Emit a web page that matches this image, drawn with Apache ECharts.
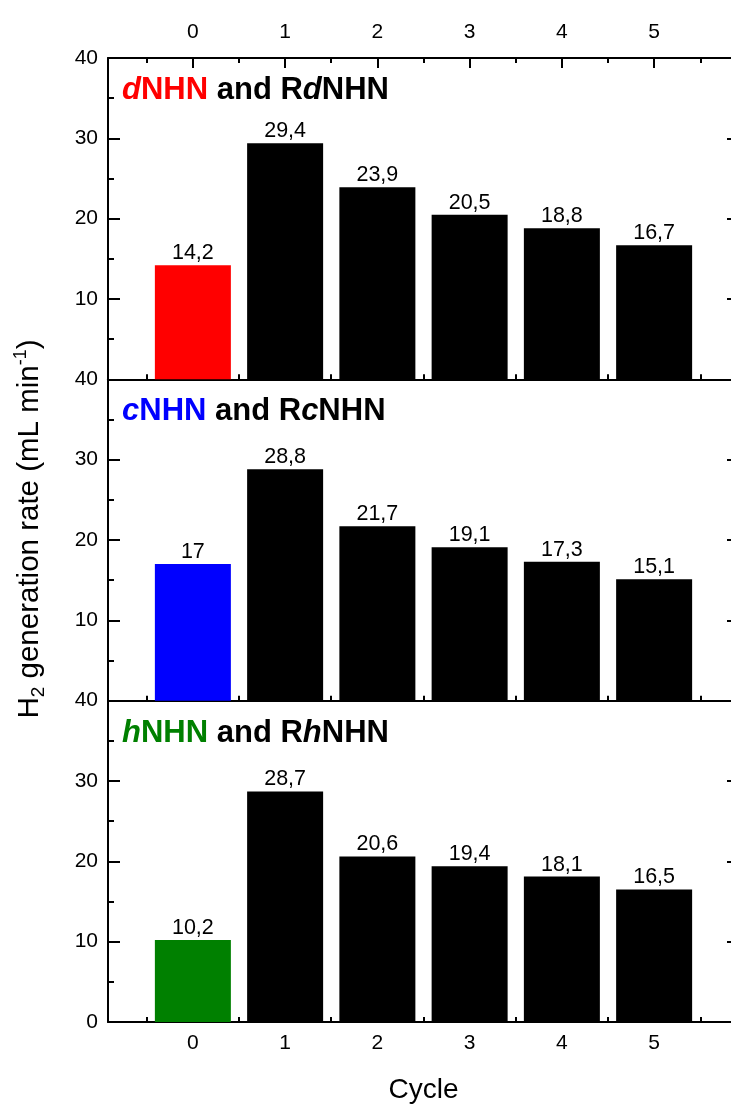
<!DOCTYPE html>
<html><head><meta charset="utf-8">
<script src="https://cdn.jsdelivr.net/npm/echarts@6/dist/echarts.min.js"></script>
<style>html,body{margin:0;padding:0;background:#fff}#c{width:731px;height:1113px}</style>
</head><body><div id="c"></div>
<script>
const cycles = [0, 1, 2, 3, 4, 5];
const minorTicks = [-0.5, 0.5, 1.5, 2.5, 3.5, 4.5, 5.5];
const valuesD = [14.2, 29.4, 23.9, 20.5, 18.8, 16.7];
const valuesC = [17, 28.8, 21.7, 19.1, 17.3, 15.1];
const valuesH = [10.2, 28.7, 20.6, 19.4, 18.1, 16.5];
const panelNames = [['d', 'NHN', 'd'], ['c', 'NHN', 'c'], ['h', 'NHN', 'h']];
const firstColors = ['#ff0000', '#0000ff', '#008000'];
const panels = [valuesD, valuesC, valuesH];

const FONT = 'Liberation Sans, Arial, sans-serif';
const top0 = 58, bottom0 = 1022, gridLeft = 108, gridWidth = 631;
const ph = (bottom0 - top0) / 3;
const xMin = -0.92, xMax = 5.92;

const grids = [], xAxes = [], yAxes = [], series = [], titles = [];
panels.forEach((vals, i) => {
  grids.push({left: gridLeft, width: gridWidth, top: top0 + i * ph, height: ph,
    outerBoundsMode: 'none', containLabel: false});
  const last = i === 2;
  const base = {type: 'value', gridIndex: i, min: xMin, max: xMax, splitLine: {show: false}};
  xAxes.push(Object.assign({}, base, {
    position: 'bottom',
    axisLine: {show: true, onZero: false, lineStyle: {color: '#000', width: 2}},
    axisTick: {show: true, inside: true, length: 10, customValues: cycles, lineStyle: {color: '#000', width: 2}},
    axisLabel: {show: last, customValues: cycles, color: '#000', fontSize: 21, fontFamily: FONT, margin: 11},
    name: last ? 'Cycle' : '', nameLocation: 'middle', nameGap: 54,
    nameTextStyle: {color: '#000', fontSize: 28, fontFamily: FONT}
  }));
  xAxes.push(Object.assign({}, base, {
    position: 'bottom',
    axisLine: {show: false, onZero: false},
    axisTick: {show: true, inside: true, length: 5, customValues: minorTicks, lineStyle: {color: '#000', width: 2}},
    axisLabel: {show: false}
  }));
  if (i === 0) {
    xAxes.push(Object.assign({}, base, {
      position: 'top',
      axisLine: {show: true, onZero: false, lineStyle: {color: '#000', width: 2}},
      axisTick: {show: true, inside: true, length: 10, customValues: cycles, lineStyle: {color: '#000', width: 2}},
      axisLabel: {show: true, customValues: cycles, color: '#000', fontSize: 21, fontFamily: FONT, margin: 15}
    }));
    xAxes.push(Object.assign({}, base, {
      position: 'top',
      axisLine: {show: false, onZero: false},
      axisTick: {show: true, inside: true, length: 5, customValues: minorTicks, lineStyle: {color: '#000', width: 2}},
      axisLabel: {show: false}
    }));
  }
  const ybase = {type: 'value', gridIndex: i, min: 0, max: 40, interval: 10, splitLine: {show: false},
    minorTick: {show: true, splitNumber: 2, length: 6, lineStyle: {color: '#000', width: 2}},
    axisLine: {show: true, onZero: false, lineStyle: {color: '#000', width: 2}},
    axisTick: {show: true, inside: true, length: 12, lineStyle: {color: '#000', width: 2}}};
  yAxes.push(Object.assign({}, ybase, {
    position: 'left',
    axisLabel: {show: true, showMinLabel: last, color: '#000', fontSize: 21, fontFamily: FONT, margin: 10},
    name: i === 1 ? '{a|H}{sub|2}{a| generation rate (mL min}{sup|-1}{a|)}' : '',
    nameLocation: 'middle', nameGap: 60, nameRotate: 90,
    nameTextStyle: {color: '#000', fontFamily: FONT, padding: [0, 0, 0, 22], rich: {
      a: {fontSize: 29.5, fontFamily: FONT, color: '#000', lineHeight: 36, verticalAlign: 'middle'},
      sub: {fontSize: 19, fontFamily: FONT, color: '#000', lineHeight: 19, verticalAlign: 'bottom'},
      sup: {fontSize: 18, fontFamily: FONT, color: '#000', lineHeight: 18, verticalAlign: 'top'}
    }}
  }));
  yAxes.push(Object.assign({}, ybase, {position: 'right', axisLabel: {show: false}}));

  const xIdx = i === 0 ? 0 : (i === 1 ? 4 : 6);
  series.push({
    type: 'bar', xAxisIndex: xIdx, yAxisIndex: i * 2, barWidth: 76,
    data: vals.map((v, k) => ({value: [cycles[k], v], itemStyle: {color: k === 0 ? firstColors[i] : '#000'}})),
    label: {show: true, position: 'top', distance: 1, color: '#000', fontSize: 21.5, fontFamily: FONT,
      formatter: p => String(p.value[1]).replace('.', ',')},
    itemStyle: {color: '#000'}
  });
  const n = panelNames[i];
  const fs = 31;
  titles.push({
    left: 117, top: top0 + i * ph + 12,
    text: '{ci|' + n[0] + '}{cb|' + n[1] + '}{r| and }{b|R}{bi|' + n[2] + '}{b|NHN}',
    textStyle: {rich: {
      ci: {fontSize: fs, fontWeight: 'bold', fontStyle: 'italic', color: firstColors[i], fontFamily: FONT},
      cb: {fontSize: fs, fontWeight: 'bold', color: firstColors[i], fontFamily: FONT},
      r: {fontSize: fs, color: '#000', fontFamily: FONT},
      b: {fontSize: fs, fontWeight: 'bold', color: '#000', fontFamily: FONT},
      bi: {fontSize: fs, fontWeight: 'bold', fontStyle: 'italic', color: '#000', fontFamily: FONT}
    }}
  });
});

const chart = echarts.init(document.getElementById('c'), null, {renderer: 'canvas'});
chart.setOption({
  animation: false,
  backgroundColor: '#fff',
  title: titles,
  grid: grids,
  xAxis: xAxes,
  yAxis: yAxes,
  series: series
});
</script></body></html>
